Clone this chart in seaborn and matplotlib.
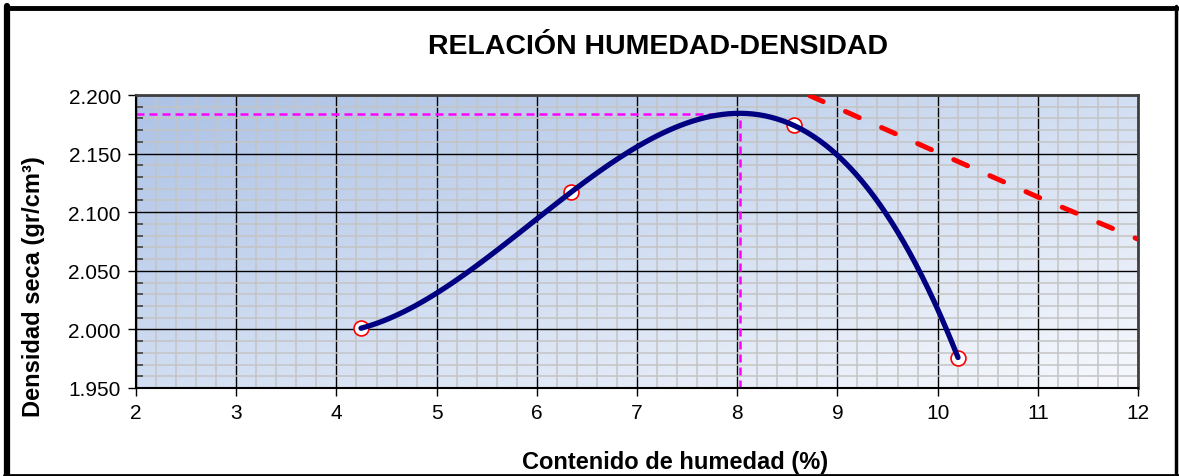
import numpy as np
import matplotlib
matplotlib.use("Agg")
import matplotlib.pyplot as plt
from matplotlib.lines import Line2D
from matplotlib.ticker import MultipleLocator, FormatStrFormatter
import seaborn as sns

# puntos del ensayo proctor (humedad %, densidad seca gr/cm3)
humedad = [4.245, 6.341, 8.567, 10.204]
densidad = [2.001, 2.117, 2.174, 1.976]

# curva de saturacion (linea roja discontinua)
hum_sat = [8.0, 9.0, 10.0, 11.0, 12.0]
dens_sat = [2.227, 2.189, 2.151, 2.113, 2.077]

# optimo: contenido de humedad optimo y maxima densidad seca
och = 8.03
mds = 2.184

x_min, x_max = 2, 12
y_min, y_max = 1.950, 2.200

sns.set_theme(style="white")
plt.rcParams['font.family'] = ['Liberation Sans', 'DejaVu Sans']
plt.rcParams['text.color'] = 'black'
plt.rcParams['xtick.color'] = 'black'
plt.rcParams['ytick.color'] = 'black'
plt.rcParams['xtick.labelcolor'] = 'black'
plt.rcParams['ytick.labelcolor'] = 'black'

fig = plt.figure(figsize=(11.79, 4.77), dpi=100)
ax = fig.add_axes([0.1154, 0.1845, 0.8498, 0.6142])

# fondo degradado azul -> blanco
u = np.linspace(0, 1, 200)
v = np.linspace(1, 0, 200)
U, V = np.meshgrid(u, v)
t = np.clip((U + (1 - V)) / 2, 0, 1)[..., None]
c0 = np.array([172, 194, 230]) / 255
c1 = np.array([247, 249, 253]) / 255
grad = c0 * (1 - t) + c1 * t
ax.imshow(grad, extent=[0, 1, 0, 1], transform=ax.transAxes, aspect='auto', zorder=0)

# lineas del optimo
ax.plot([x_min, och], [mds, mds], color='magenta', lw=1.8, linestyle=(0, (3.2, 2.0)), zorder=2)
ax.plot([och, och], [y_min, mds], color='magenta', lw=1.8, linestyle=(0, (3.2, 2.0)), zorder=2)

# curva de saturacion
ax.plot(hum_sat, dens_sat, color='red', lw=3.6, linestyle=(0, (3.0, 4.9)),
        dash_capstyle='round', zorder=3)

# puntos y curva de ajuste
sns.scatterplot(x=humedad, y=densidad, marker='o', s=115, facecolor='white',
                edgecolor='red', linewidth=1.2, zorder=4, ax=ax)
sns.regplot(x=humedad, y=densidad, order=3, ci=None, scatter=False, truncate=True,
            line_kws=dict(color='#000080', lw=3.8, zorder=5), ax=ax)

ax.set_xlim(x_min, x_max)
ax.set_ylim(y_min, y_max)
ax.xaxis.set_major_locator(MultipleLocator(1))
ax.xaxis.set_minor_locator(MultipleLocator(0.2))
ax.yaxis.set_major_locator(MultipleLocator(0.05))
ax.yaxis.set_minor_locator(MultipleLocator(0.01))
ax.yaxis.set_major_formatter(FormatStrFormatter('%.3f'))

ax.set_axisbelow(True)
ax.grid(which='minor', color='#c4c4c4', lw=1.1)
ax.grid(which='major', color='black', lw=1.0)

ax.tick_params(axis='both', which='major', direction='out', length=6, width=1,
               color='black', labelsize=15, pad=5, bottom=True, left=True)
ax.tick_params(axis='x', which='minor', bottom=False)
ax.tick_params(axis='y', which='minor', direction='in', length=5, width=1.2,
               color='#404040', left=True)

for side in ['left', 'bottom']:
    ax.spines[side].set_color('black')
    ax.spines[side].set_linewidth(1.5)
for side in ['top', 'right']:
    ax.spines[side].set_color('#404040')
    ax.spines[side].set_linewidth(2)

ax.set_xlabel('')
ax.set_ylabel('')

fig.text(0.5577, 0.9015, 'RELACIÓN HUMEDAD-DENSIDAD', ha='center', va='center',
         fontsize=20.5, fontweight='bold')
fig.text(0.5725, 0.031, 'Contenido de humedad (%)', ha='center', va='center',
         fontsize=17, fontweight='bold')
fig.text(0.028, 0.40, 'Densidad seca (gr/cm³)', ha='center', va='center',
         rotation=90, fontsize=17, fontweight='bold')

# marco exterior
W, H = 1179, 477
def px(x, y):
    return x / W, 1 - y / H
for (xa, ya), (xb, yb), lw in [((6.5, 9), (1177, 9), 3.5),
                               ((6.5, 7), (6.5, 477), 4.5),
                               ((1176, 7), (1176, 476), 2.5),
                               ((4, 475.5), (1178, 475.5), 2)]:
    p0, p1 = px(xa, ya), px(xb, yb)
    fig.add_artist(Line2D([p0[0], p1[0]], [p0[1], p1[1]], color='black', lw=lw))

fig.savefig('out.png', dpi=100)
